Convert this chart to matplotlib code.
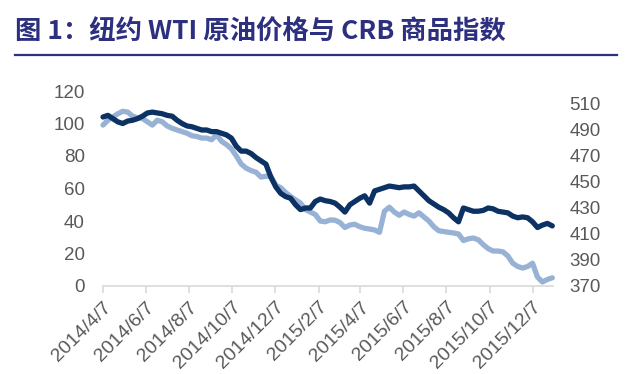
import matplotlib
matplotlib.use("Agg")
import matplotlib.pyplot as plt
import pandas as pd

plt.rcParams['font.family'] = ['Liberation Sans', 'DejaVu Sans']

title = "图 1：纽约 WTI 原油价格与 CRB 商品指数"

# weekly observation dates (2014-04-07 .. 2016-01-04)
dates = pd.date_range("2014-04-07", periods=92, freq="7D")

# WTI crude (USD/bbl, left axis)
wti = [104, 105, 103, 101, 100, 101.5, 102, 103, 104.5, 106.5,
       107, 106.5, 106, 105, 104.5, 102, 100, 98.5, 98, 97,
       96, 96, 95, 95, 94, 93, 91, 86, 83, 83,
       81.5, 79, 77, 75, 67, 61, 57, 55, 54, 50,
       47, 48, 48, 52, 53.5, 52.5, 52, 51, 48.5, 45.5,
       50, 52, 54, 55.5, 51, 58.5, 59.5, 60.5, 61.5, 61,
       60.5, 61, 61, 61.5, 58.5, 55.5, 52.5, 50.5, 48.5, 47,
       45, 42, 39.5, 48, 47, 46, 46, 46.5, 48, 47.5,
       46, 45.5, 45, 43, 42, 42.5, 42, 39.5, 36, 37.5,
       38.5, 37]

# CRB commodity index (right axis)
crb = [493.8, 497.5, 500, 502.5, 504.4, 503.8, 500.6, 499.4, 498.8, 496.3,
       493.8, 497.5, 496.3, 493.1, 491.3, 490, 488.8, 487.5, 485.6, 485,
       483.8, 483.8, 482.5, 486.3, 481.3, 478.8, 475.6, 470, 463.8, 460.6,
       458.8, 457.5, 453.8, 454.4, 454.4, 447.5, 445.6, 441.9, 438.8, 436.3,
       433.8, 428.8, 426.9, 425, 420, 419.4, 420.8, 420.6, 418.8, 415,
       416.9, 417.5, 415.6, 414.4, 413.8, 413.1, 411.3, 427.5, 430.6, 426.9,
       424.4, 426.9, 425, 423.8, 426.3, 423.1, 420, 415.6, 412.5, 411.9,
       411.3, 410.8, 410, 405, 406.3, 406.9, 405.6, 401.9, 398.8, 396.9,
       396.9, 396.3, 393.1, 387.5, 385, 383.8, 385, 387.5, 376.9, 373.1,
       375, 376.3]

left_ticks = [0, 20, 40, 60, 80, 100, 120]
right_ticks = [370, 390, 410, 430, 450, 470, 490, 510]
x_tick_dates = ["2014-04-07", "2014-06-07", "2014-08-07", "2014-10-07",
                "2014-12-07", "2015-02-07", "2015-04-07", "2015-06-07",
                "2015-08-07", "2015-10-07", "2015-12-07"]
x_tick_labels = ["2014/4/7", "2014/6/7", "2014/8/7", "2014/10/7",
                 "2014/12/7", "2015/2/7", "2015/4/7", "2015/6/7",
                 "2015/8/7", "2015/10/7", "2015/12/7"]

DARK = "#0c3264"
LIGHT = "#98b2d6"
NAVY = "#2d2f7f"
GRAY = "#595959"

fig = plt.figure(figsize=(6.38, 3.74), dpi=100)
fig.patch.set_facecolor("white")

ax = fig.add_axes([103/638, 1-286/374, (553-103)/638, (286-91)/374])
ax2 = ax.twinx()

ax2.plot(dates, crb, color=LIGHT, lw=3.8, solid_joinstyle="round",
         solid_capstyle="round", zorder=2, clip_on=False)
ax.plot(dates, wti, color=DARK, lw=3.8, solid_joinstyle="round",
        solid_capstyle="round", zorder=3, clip_on=False)
ax.set_zorder(ax2.get_zorder() + 1)
ax.patch.set_visible(False)

ax.set_ylim(0, 120)
ax2.set_ylim(370, 520)
ax.set_yticks(left_ticks)
ax2.set_yticks(right_ticks)
ax.set_xlim(pd.Timestamp("2014-04-07"), pd.Timestamp("2016-01-05"))

xt = [pd.Timestamp(d) for d in x_tick_dates]
ax.set_xticks(xt)
ax.set_xticklabels(x_tick_labels, rotation=45, ha="right",
                   rotation_mode="anchor", fontsize=14, color=GRAY)

for a in (ax, ax2):
    for s in ("top", "left", "right"):
        a.spines[s].set_visible(False)
    a.spines["bottom"].set_color("#d9d9d9")
    a.spines["bottom"].set_linewidth(1.2)

ax2.spines["bottom"].set_visible(False)
ax.tick_params(axis="x", length=5, color="#d9d9d9", width=1.2, pad=4)
ax.tick_params(axis="y", length=0, labelsize=13.5, labelcolor=GRAY, pad=13)
ax2.tick_params(axis="y", length=0, labelsize=13.5, labelcolor=GRAY, pad=12)

fig.text(15/638, 1-32/374, title, fontsize=19, fontweight="bold", color=NAVY,
         family=["Noto Sans CJK SC", "DejaVu Sans"], va="center", ha="left")
fig.add_artist(plt.Line2D([15/638, 617/638], [1-55/374, 1-55/374],
                          color=NAVY, lw=1.6, transform=fig.transFigure))

fig.savefig("out.png", dpi=100, facecolor="white")
